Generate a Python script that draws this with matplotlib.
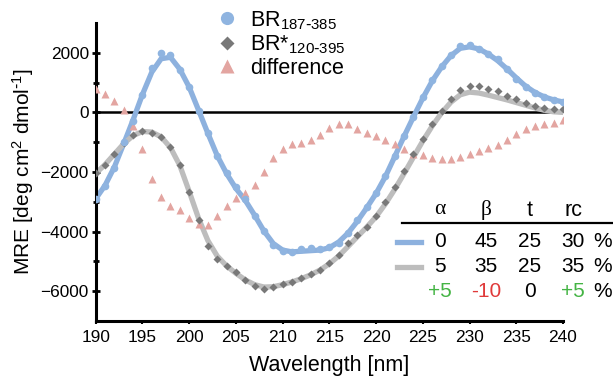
import matplotlib
matplotlib.use("Agg")
import matplotlib.pyplot as plt
from matplotlib.lines import Line2D
import numpy as np

plt.rcParams['font.family'] = ['Liberation Sans', 'DejaVu Sans']
plt.rcParams['mathtext.default'] = 'regular'

wavelength = list(range(190, 241))

br187_385 = [-2900, -2480, -1850, -1010, -290, 580, 1480, 1980, 1910, 1430,
             840, 50, -700, -1460, -2050, -2520, -2920, -3460, -3990, -4440,
             -4640, -4690, -4590, -4560, -4590, -4520, -4370, -4050, -3610, -3190,
             -2710, -2140, -1460, -800, -150, 500, 1090, 1550, 1940, 2230,
             2270, 2130, 1970, 1780, 1460, 1120, 840, 650, 530, 430, 360]

br120_395 = [-2030, -1770, -1410, -1040, -770, -620, -700, -820, -1160, -1770,
             -2660, -3610, -4470, -4910, -5140, -5340, -5620, -5820, -5920, -5870,
             -5760, -5680, -5570, -5430, -5280, -5060, -4780, -4390, -4110, -3830,
             -3490, -3020, -2490, -1950, -1410, -880, -400, 40, 460, 750,
             870, 870, 800, 720, 550, 450, 330, 220, 160, 130, 130]

difference = [800, 610, 380, 80, -470, -1240, -2230, -2830, -3130, -3280,
              -3540, -3730, -3790, -3490, -3150, -2870, -2710, -2450, -2000, -1520,
              -1220, -1050, -1020, -940, -770, -540, -400, -400, -570, -700,
              -790, -930, -1060, -1215, -1380, -1430, -1540, -1560, -1560, -1490,
              -1410, -1300, -1210, -1080, -930, -740, -570, -460, -400, -350, -270]

fit_187_385 = [-2900, -2450, -1830, -1050, -250, 600, 1350, 1800, 1850, 1450,
               850, 80, -700, -1450, -2050, -2550, -2950, -3450, -3980, -4400,
               -4620, -4680, -4660, -4640, -4620, -4540, -4350, -4050, -3650, -3200,
               -2720, -2150, -1480, -800, -150, 480, 1050, 1520, 1900, 2150,
               2200, 2130, 1960, 1740, 1460, 1160, 880, 670, 520, 420, 350]

fit_120_395 = [-2050, -1750, -1400, -1050, -780, -640, -660, -820, -1180, -1780,
               -2650, -3550, -4300, -4820, -5150, -5400, -5620, -5780, -5860, -5850,
               -5780, -5690, -5580, -5450, -5290, -5080, -4820, -4500, -4170, -3850,
               -3500, -3070, -2580, -2050, -1500, -960, -460, -20, 340, 590,
               680, 650, 580, 500, 420, 330, 240, 150, 70, 20, 0]

legend_labels = ["BR$_{187\\text{-}385}$", "BR*$_{120\\text{-}395}$", "difference"]
table_header = ["α", "β", "t", "rc"]
row_187 = ["0", "45", "25", "30"]
row_120 = ["5", "35", "25", "35"]
row_diff = ["+5", "-10", "0", "+5"]

blue = "#8fb4e0"
blue_line = "#8db1de"
gray_pt = "#787878"
gray_line = "#bdbdbd"
red_pt = "#e3a5a1"
green = "#44b444"
red_txt = "#e03a3a"

W, H = 613, 378
fig = plt.figure(figsize=(W / 100, H / 100), dpi=100)
ax = fig.add_axes([95.7 / W, 1 - 321 / H, (563 - 95.7) / W, (321 - 23) / H])

ax.axhline(0, color="black", lw=1.8, zorder=1)
ax.plot(wavelength, fit_187_385, color=blue_line, lw=3.8, zorder=2, solid_capstyle='round')
ax.plot(wavelength, fit_120_395, color=gray_line, lw=3.8, zorder=2, solid_capstyle='round')
ax.plot(wavelength, difference, ls='none', marker='^', ms=6, color=red_pt, mec='none', zorder=3)
ax.plot(wavelength, br120_395, ls='none', marker='D', ms=4.2, color=gray_pt, mec='none', zorder=4)
ax.plot(wavelength, br187_385, ls='none', marker='o', ms=5.5, color=blue, mec='none', zorder=4)

ax.set_xlim(190, 240)
ax.set_ylim(-7000, 3000)
ax.set_xticks(range(190, 241, 5))
ax.set_yticks([2000, 0, -2000, -4000, -6000])
ax.set_yticks([1000, -1000, -3000, -5000], minor=True)
for s in ['top', 'right']:
    ax.spines[s].set_visible(False)
for s in ['left', 'bottom']:
    ax.spines[s].set_linewidth(2.2)
ax.tick_params(axis='x', length=2.5, width=1.5, pad=4, labelsize=12.4)
ax.tick_params(axis='y', which='major', direction='inout', length=6, width=2, pad=2, labelsize=12.4)
ax.tick_params(axis='y', which='minor', direction='inout', length=5, width=2)
ax.set_xlabel("Wavelength [nm]", fontsize=15.5, labelpad=7)
ax.set_ylabel("MRE [deg cm$^{2}$ dmol$^{\\text{-}1}$]", fontsize=15, labelpad=3)

handles = [
    Line2D([], [], ls='none', marker='o', ms=9.5, color=blue, mec='none'),
    Line2D([], [], ls='none', marker='D', ms=7, color=gray_pt, mec='none'),
    Line2D([], [], ls='none', marker='^', ms=9.5, color=red_pt, mec='none'),
]
fig.legend(handles, legend_labels, loc='upper left', bbox_to_anchor=(216 / W, 1 - 9 / H),
           frameon=False, fontsize=15.5, handletextpad=0.6, labelspacing=0.08,
           borderpad=0, borderaxespad=0, handlelength=1.0)

# table
cols_x = [440, 486, 530, 573]
pct_x = 603
def fx(x):
    return x / W
def fy(y):
    return 1 - y / H

for x, t in zip(cols_x, table_header):
    fam = ['Liberation Serif', 'DejaVu Serif'] if t in ("α", "β") else ['Liberation Sans']
    fig.text(fx(x), fy(210), t, ha='center', va='center', fontsize=15.5, family=fam)
fig.add_artist(Line2D([fx(402), fx(613)], [fy(223.3), fy(223.3)], color='black', lw=1.6))

rows = [(row_187, 241.7, blue_line), (row_120, 266.7, gray_line)]
for vals, y, c in rows:
    fig.add_artist(Line2D([fx(397), fx(421)], [fy(y), fy(y)], color=c, lw=3.8))
    for x, t in zip(cols_x, vals):
        fig.text(fx(x), fy(y), t, ha='center', va='center', fontsize=15)
    fig.text(fx(pct_x), fy(y), "%", ha='center', va='center', fontsize=15)

diff_colors = [green, red_txt, 'black', green]
for x, t, c in zip(cols_x, row_diff, diff_colors):
    fig.text(fx(x), fy(291.7), t, ha='center', va='center', fontsize=15, color=c)
fig.text(fx(pct_x), fy(291.7), "%", ha='center', va='center', fontsize=15)

fig.savefig("out.png", dpi=100)
